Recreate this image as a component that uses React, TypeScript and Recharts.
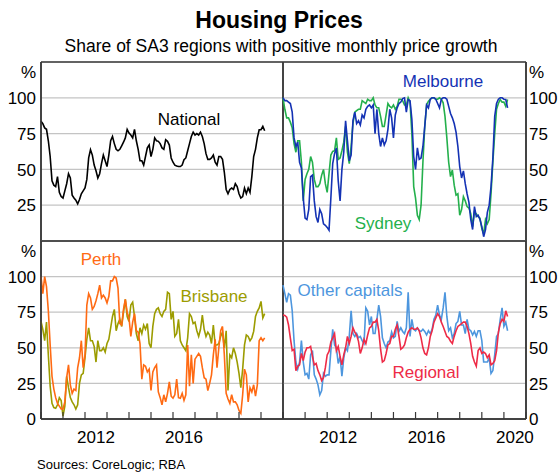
import React from 'react';
import { LineChart, Line, XAxis, YAxis, CartesianGrid, ReferenceLine } from 'recharts';

const FONT = "'Liberation Sans', Arial, Helvetica, sans-serif";
const W = 558;
const H = 475;
const FRAME = '#383838';

// monthly observations, starting January 2010
const START_YEAR = 2010;
const yearTicks = [2010, 2011, 2012, 2013, 2014, 2015, 2016, 2017, 2018, 2019, 2020, 2021];
const leftYearLabels = [2012, 2016];
const rightYearLabels = [2012, 2016, 2020];
const yTicksTop = [25, 50, 75, 100, 125];
const yTicksBottom = [0, 25, 50, 75, 100, 125];

const national = [
  83.6, 82, 79, 78, 70, 59, 42, 39, 38, 45,
  34, 31, 30, 35, 40, 47, 44, 32, 30, 28.5,
  26, 29, 33, 35, 37, 43, 58, 63.7, 60, 53,
  49, 44, 47, 54, 60, 56, 52, 60, 70, 73,
  68, 64, 63, 64, 66.5, 69, 72, 78, 75.4, 74,
  72, 78, 70, 64, 56, 56, 53, 59, 65, 67,
  59, 64, 72, 70, 69.6, 68, 65, 64, 70.7, 69.6,
  67, 58, 55, 53, 52.4, 52, 52, 53, 56.7, 58,
  63, 68, 73, 76, 74, 75, 74, 76, 73, 68,
  61, 57, 57, 58, 60, 55, 53, 59, 59, 57,
  48, 36, 33, 36, 37, 36, 40, 38, 33, 30,
  31, 37, 33, 37, 34, 45, 59, 64, 72, 77.7,
  77.7, 80, 77,
];

const melbourne = [
  100, 98, 98, 97, 96, 90, 72, 66, 69, 55,
  51, 30, 16, 15, 22, 45, 46, 28, 17, 13,
  22, 19, 12, 11, 9.5, 7.5, 30, 54, 61, 65,
  42, 28, 50, 62, 84, 70, 56, 60, 84, 90,
  82, 84, 81, 88, 86, 92, 94, 95, 93, 95,
  75, 92, 75, 66, 72, 67, 70, 78, 92, 86,
  72, 88, 93, 96, 97, 99.5, 100, 90, 98.8, 98,
  85, 59, 50, 65, 57, 58, 66, 80, 95, 93,
  99, 100, 100, 99, 96, 93, 99, 100, 100, 99,
  94, 89, 86, 82, 76, 66, 52, 44, 49, 40,
  33, 27, 15, 8, 24, 17, 18, 15, 10, 3,
  8, 20, 25, 38, 58, 87, 96, 99, 100, 100,
  99, 98.8, 93,
];

const sydney = [
  100, 92, 86, 86, 83, 79, 68, 62, 70, 70,
  55, 28, 43, 47, 50, 59, 55, 43, 38, 38,
  40, 46, 50, 40, 34, 47, 60, 62.5, 63, 72,
  57, 58, 63, 69, 80, 62, 54, 66, 82, 90,
  91, 92, 92, 98, 97, 96, 99, 98, 98, 100,
  95, 93, 93, 87, 80, 80, 88, 96, 94, 93,
  95, 92, 94, 99, 99, 98, 95, 95, 100, 97,
  75, 38, 30, 18, 15, 25, 55, 80, 95, 97.7,
  99, 100, 100, 99, 99, 100, 99, 96.5, 87, 72,
  55, 45, 49.6, 39, 32, 33, 18, 22, 31, 28,
  24, 23, 19, 10, 20, 19, 17, 16, 8.7, 5,
  15, 12, 15, 33, 55, 75, 92, 96, 98.8, 97,
  97, 94, 98.8,
];

const perth = [
  100, 88, 100, 93, 76, 52, 30, 21, 15, 11,
  9, 7, 7, 12, 29, 38, 24, 18, 21, 20,
  36, 43, 55, 36, 45, 80, 88, 85, 77, 79,
  83, 88, 94, 85, 87, 85, 81.5, 86, 97, 97,
  100, 99, 92, 67, 66, 77, 84, 75, 71, 58,
  68, 74, 62, 61, 53, 28, 38, 37, 33, 35,
  20, 33, 36, 38, 19, 15, 10, 17, 12, 18,
  26, 16, 14.6, 17, 28, 15, 14.6, 18, 13, 17,
  52, 23, 45, 25, 42, 44, 46, 44, 36, 29,
  28, 20, 25, 31, 45, 56, 36, 50, 62, 65,
  45, 18, 14, 11, 17, 12, 12, 10, 6, 4,
  17, 35, 31, 12, 22, 19, 24, 16, 24, 55,
  57, 55, 57,
];

const brisbane = [
  68.5, 63, 55, 68, 45, 23, 11, 8, 7.5, 10,
  15, 13, 2, 9, 30, 22, 15, 12, 10, 7,
  10, 25, 31, 32, 43, 56, 64, 55, 55, 51,
  40, 55, 48, 48, 50, 47, 53, 56, 64, 72,
  77, 62, 67, 70, 65, 75, 84, 72, 68.5, 80,
  82, 72, 60, 55, 64, 60, 66, 63, 67, 53,
  50, 65, 74, 77, 78, 74, 72, 75.6, 77, 89,
  88, 70, 75.6, 58, 60, 70, 55, 52, 50, 48,
  57, 74, 72, 67, 68, 62, 58, 63, 73, 63,
  58, 61, 59, 53, 66, 52, 52, 53, 58, 61,
  50, 62, 20, 45, 43, 50, 46, 40, 32, 22,
  35, 52, 59, 58, 55, 57, 61.5, 72, 75.6, 78,
  82.6, 71, 74,
];

const otherCapitals = [
  94, 88, 82, 88, 87, 76, 55, 40, 35, 40,
  55, 40, 31, 32, 28, 45, 48, 31, 28, 24,
  17, 20, 32, 30, 31, 31, 48, 63, 52, 50,
  39, 44, 30, 42.7, 50, 48, 58, 76, 60, 58,
  60, 57, 58, 55, 53, 78, 75.6, 66, 72, 60,
  60, 70, 80, 72, 57, 53, 50, 54, 55, 61,
  57, 58, 68.5, 61.5, 64, 61.5, 60, 64, 89, 58,
  70, 63, 62, 64, 62, 61.5, 63, 61.5, 59, 62,
  60, 63, 70, 73, 80, 73, 70, 78, 89, 72,
  62, 64, 57, 60, 67, 68.5, 75.6, 66, 66, 60,
  70, 63, 62, 59, 61.5, 58, 62, 62, 55, 40,
  40, 40, 42.7, 32, 34, 45, 58, 60, 70, 78,
  65, 68, 62,
];

const regional = [
  73, 72.7, 71.5, 66, 56.8, 48, 49, 34, 37, 38,
  46, 41, 47, 50, 50, 51, 44, 38, 39, 34,
  31, 27, 29, 36, 45, 47.4, 54, 57, 60, 48,
  51, 44, 38, 45, 50, 58, 53, 58, 64, 61,
  59, 54.5, 46, 50, 56, 53, 59, 64, 65, 68,
  68, 70, 62, 49, 40, 41, 46, 52, 53, 58,
  58, 63, 66, 58, 49, 50, 52, 57, 61, 63,
  64, 63, 63, 64, 62, 57, 50, 46, 45, 50,
  58, 62, 68, 71, 74, 72, 68, 65, 61.5, 58,
  57, 54.5, 53, 58, 62, 65, 66, 67, 68, 68,
  65, 60, 53, 44, 40, 37, 48, 49.8, 46, 47,
  46, 43, 45, 38, 39, 41, 48, 61, 67, 70,
  68.5, 76, 72,
];

const COLORS = {
  national: '#000000',
  melbourne: '#1432b4',
  sydney: '#24b04c',
  perth: '#ff6a13',
  brisbane: '#9c9c00',
  otherCapitals: '#4d96de',
  regional: '#ee2b47',
};

function monthly(series: Record<string, number[]>) {
  const keys = Object.keys(series);
  const n = series[keys[0]].length;
  return Array.from({ length: n }, (_, i) => {
    const row: Record<string, number> = { t: START_YEAR + i / 12 };
    keys.forEach((k) => {
      row[k] = series[k][i];
    });
    return row;
  });
}

function YTick(props: any) {
  const { x, y, payload, side } = props;
  const isUnit = payload.value === 125;
  return (
    <text
      x={x}
      y={isUnit ? y + 10 : y}
      dy="0.36em"
      textAnchor={side === 'left' ? 'end' : 'start'}
      fontSize={17}
      fontFamily={FONT}
      fill="#000"
    >
      {isUnit ? '%' : payload.value}
    </text>
  );
}

function XTick(props: any) {
  const { x, y, payload, labels } = props;
  return (
    <g>
      <line x1={x} x2={x} y1={y} y2={y - 7} stroke={FRAME} strokeWidth={1.2} />
      {labels.includes(payload.value) && (
        <text x={x + 11} y={y + 24} textAnchor="middle" fontSize={17} fontFamily={FONT} fill="#000">
          {payload.value}
        </text>
      )}
    </g>
  );
}

type PanelProps = {
  data: Record<string, number>[];
  series: { key: string; color: string }[];
  side: 'left' | 'right';
  bottom: boolean;
};

function Panel({ data, series, side, bottom }: PanelProps) {
  const margin = {
    top: bottom ? 241 : 62,
    bottom: bottom ? H - 419 - 30 : H - 241,
    left: side === 'left' ? 1 : 283,
    right: side === 'left' ? W - 283 : 0,
  };
  const frame = { stroke: FRAME, strokeWidth: 1.5 };
  return (
    <LineChart
      width={W}
      height={H}
      data={data}
      margin={margin}
      style={{ position: 'absolute', left: 0, top: 0 }}
    >
      <CartesianGrid vertical={false} stroke="#c4c4c4" strokeWidth={1.2} />
      <XAxis
        dataKey="t"
        type="number"
        domain={[2010, 2021]}
        ticks={yearTicks}
        interval={0}
        hide={!bottom}
        height={30}
        tickSize={0}
        tickMargin={0}
        tickLine={false}
        axisLine={frame}
        tick={<XTick labels={side === 'left' ? leftYearLabels : rightYearLabels} />}
      />
      <YAxis
        orientation={side}
        width={side === 'left' ? 40 : 32}
        type="number"
        domain={[0, 125]}
        ticks={bottom ? yTicksBottom : yTicksTop}
        interval={0}
        tickSize={0}
        tickMargin={side === 'left' ? 5 : 3}
        tickLine={false}
        axisLine={frame}
        tick={<YTick side={side} />}
      />
      <ReferenceLine y={125} {...frame} />
      <ReferenceLine y={0} {...frame} />
      <ReferenceLine x={2010} {...frame} />
      <ReferenceLine x={2021} {...frame} />
      {series.map((s) => (
        <Line
          key={s.key}
          type="linear"
          dataKey={s.key}
          stroke={s.color}
          strokeWidth={1.6}
          dot={false}
          isAnimationActive={false}
        />
      ))}
    </LineChart>
  );
}

function Label({ x, y, color, size = 17, bold = false, children }: any) {
  return (
    <div
      style={{
        position: 'absolute',
        left: x,
        top: y,
        transform: 'translate(-50%, -50%)',
        whiteSpace: 'nowrap',
        lineHeight: 1,
        fontSize: size,
        fontWeight: bold ? 700 : 400,
        color,
      }}
    >
      {children}
    </div>
  );
}

export default function App() {
  const nationalData = monthly({ national });
  const bigCities = monthly({ sydney, melbourne });
  const resources = monthly({ brisbane, perth });
  const rest = monthly({ otherCapitals, regional });

  return (
    <div
      style={{
        position: 'absolute',
        left: 0,
        top: 0,
        width: W,
        height: H,
        background: '#fff',
        fontFamily: FONT,
        overflow: 'hidden',
      }}
    >
      <Panel data={nationalData} series={[{ key: 'national', color: COLORS.national }]} side="left" bottom={false} />
      <Panel
        data={bigCities}
        series={[
          { key: 'sydney', color: COLORS.sydney },
          { key: 'melbourne', color: COLORS.melbourne },
        ]}
        side="right"
        bottom={false}
      />
      <Panel
        data={resources}
        series={[
          { key: 'brisbane', color: COLORS.brisbane },
          { key: 'perth', color: COLORS.perth },
        ]}
        side="left"
        bottom
      />
      <Panel
        data={rest}
        series={[
          { key: 'otherCapitals', color: COLORS.otherCapitals },
          { key: 'regional', color: COLORS.regional },
        ]}
        side="right"
        bottom
      />

      <Label x={279} y={20} size={23} bold color="#000">Housing Prices</Label>
      <Label x={281} y={47} size={17.5} color="#000">Share of SA3 regions with positive monthly price growth</Label>

      <Label x={189} y={119} color={COLORS.national}>National</Label>
      <Label x={443} y={81} color={COLORS.melbourne}>Melbourne</Label>
      <Label x={383} y={223} color={COLORS.sydney}>Sydney</Label>
      <Label x={101} y={259} color={COLORS.perth}>Perth</Label>
      <Label x={214} y={296} color={COLORS.brisbane}>Brisbane</Label>
      <Label x={350} y={290} color={COLORS.otherCapitals}>Other capitals</Label>
      <Label x={426} y={372} color={COLORS.regional}>Regional</Label>

      <div style={{ position: 'absolute', left: 37, top: 458, fontSize: 13, lineHeight: 1, whiteSpace: 'nowrap' }}>
        Sources: CoreLogic; RBA
      </div>
    </div>
  );
}
